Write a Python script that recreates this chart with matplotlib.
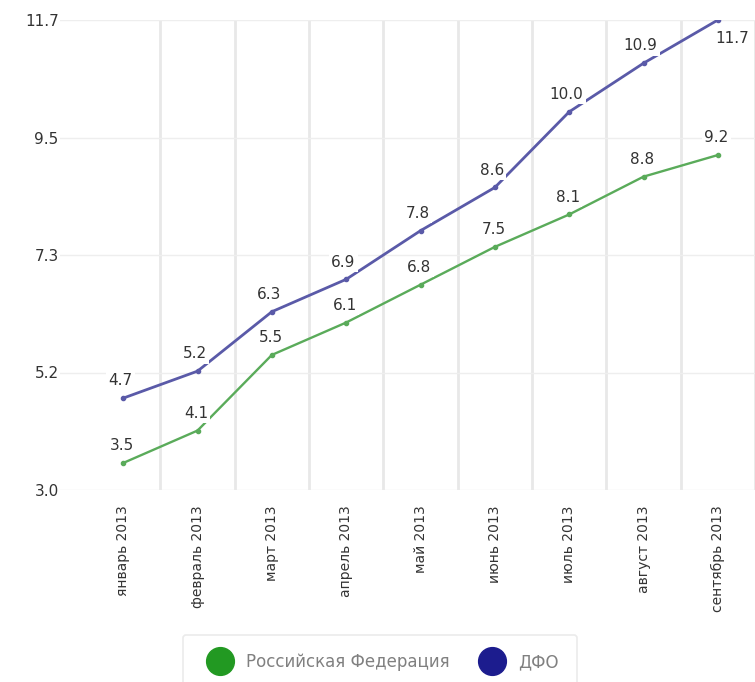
import matplotlib.pyplot as plt
from matplotlib.lines import Line2D

months = ['январь 2013', 'февраль 2013', 'март 2013', 'апрель 2013', 'май 2013',
          'июнь 2013', 'июль 2013', 'август 2013', 'сентябрь 2013']
rf = [3.5, 4.1, 5.5, 6.1, 6.8, 7.5, 8.1, 8.8, 9.2]
dfo = [4.7, 5.2, 6.3, 6.9, 7.8, 8.6, 10.0, 10.9, 11.7]
y_ticks = [3.0, 5.175, 7.35, 9.525, 11.7]
y_labels = ['3.0', '5.2', '7.3', '9.5', '11.7']

GREEN = '#5aab5a'
PURPLE = '#5a5aa8'

plt.rcParams['font.family'] = ['DejaVu Sans']

fig = plt.figure(figsize=(7.55, 6.82), dpi=100)
ax = fig.add_axes([60 / 755, 1 - 490 / 682, 695 / 755, 470 / 682])

x = list(range(len(months)))
ax.plot(x, rf, color=GREEN, lw=1.7, marker='o', ms=3, zorder=3)
ax.plot(x, dfo, color=PURPLE, lw=2.0, marker='o', ms=3, zorder=3)


def label(xi, v, dx, dy, va):
    ax.annotate(f'{v:.1f}', (xi, v), xytext=(dx, dy), textcoords='offset points',
                ha='center', va=va, fontsize=11, color='#333333', zorder=4,
                bbox=dict(boxstyle='square,pad=0.15', fc='white', ec='none'))


for xi, v in zip(x, rf):
    label(xi, v, -1, 7, 'bottom')
for i, (xi, v) in enumerate(zip(x, dfo)):
    if i == len(dfo) - 1:
        label(xi, v, 10, -8, 'top')
    else:
        label(xi, v, -2, 7, 'bottom')

ax.set_xlim(-0.85, 8.5)
ax.set_ylim(3.0, 11.7)
ax.set_yticks(y_ticks)
ax.set_yticklabels(y_labels, fontsize=11, color='#333333')
ax.set_xticks(x)
ax.set_xticklabels(months, rotation=90, fontsize=10, color='#333333', va='top')
ax.tick_params(axis='x', length=0, pad=11)
ax.tick_params(axis='y', length=0, pad=1)

for b in [i + 0.5 for i in x]:
    ax.axvline(b, color='#e8e8e8', lw=2, zorder=1)
for t in y_ticks:
    ax.axhline(t, color='#eeeeee', lw=1, zorder=1)

for s in ax.spines.values():
    s.set_visible(False)

handles = [Line2D([], [], ls='none', marker='o', ms=20, color='#229922'),
           Line2D([], [], ls='none', marker='o', ms=20, color='#1c1c8e')]
leg = fig.legend(handles, ['Российская Федерация', 'ДФО'], loc='center',
                 bbox_to_anchor=(380 / 755, 1 - 662 / 682), ncol=2, frameon=True,
                 fontsize=12, labelcolor='#808080', handletextpad=0.5,
                 columnspacing=1.4, borderpad=1.1, handlelength=2.2, fancybox=True)
leg.get_frame().set_edgecolor('#e6e6e6')
leg.get_frame().set_linewidth(1.2)

fig.savefig('out.png', dpi=100, facecolor='white')
